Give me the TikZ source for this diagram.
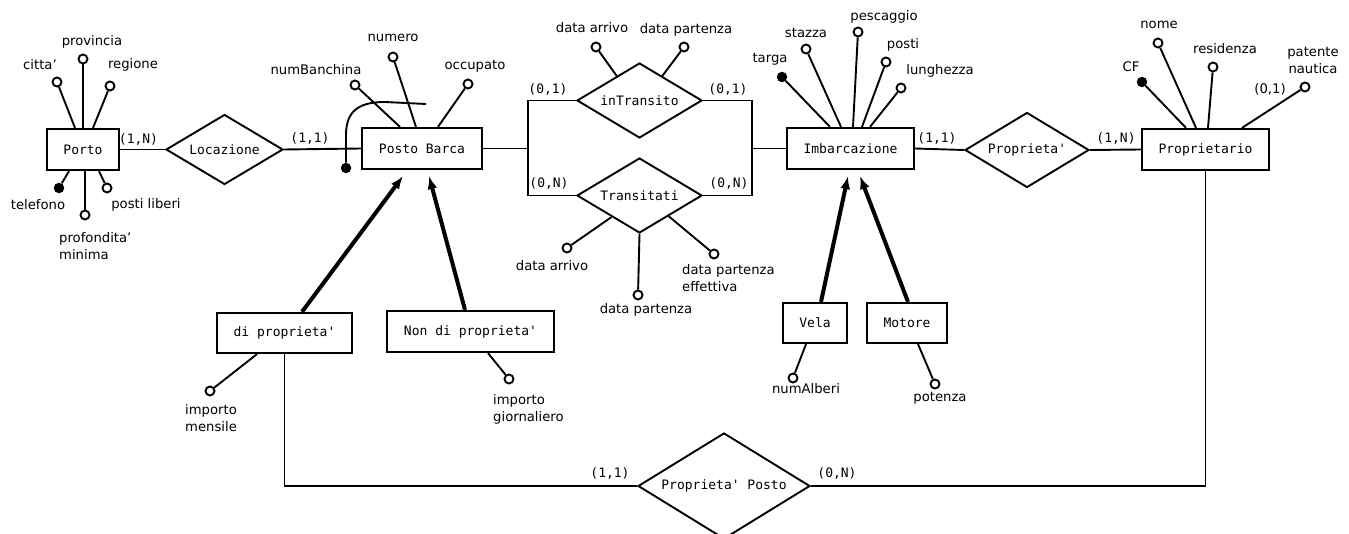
\documentclass[tikz,border=0pt]{standalone}
\usepackage{fontspec}
\setmainfont{DejaVu Sans}
\setmonofont{DejaVu Sans Mono}
\usetikzlibrary{shapes.geometric,arrows.meta,calc}
\begin{document}
\begin{tikzpicture}[x=1pt,y=-1pt,
  ent/.style={draw,line width=2.2pt,minimum height=41pt,inner sep=0pt,font=\fontsize{13}{15}\ttfamily},
  rel/.style={draw,diamond,line width=1.9pt,inner sep=0pt,aspect=1.7,font=\fontsize{13}{15}\ttfamily},
  attr/.style={circle,draw,fill=white,line width=1.9pt,minimum size=9pt,inner sep=0pt},
  keyattr/.style={circle,fill=black,minimum size=10.5pt,inner sep=0pt},
  lbl/.style={font=\fontsize{13.2}{17}\selectfont,inner sep=0pt},
  card/.style={font=\fontsize{13}{15}\ttfamily,inner sep=0pt},
  link/.style={line width=1.9pt},
  isa/.style={line width=4pt,-{Latex[length=13pt,width=10pt]}},
]
\useasboundingbox (0,0) rectangle (1349,534);

% entities
\node[ent,minimum width=72pt] (porto) at (83,149.5) {Porto};
\node[ent,minimum width=120pt] (pb) at (422,148.5) {Posto Barca};
\node[ent,minimum width=127pt] (imb) at (850.5,148.5) {Imbarcazione};
\node[ent,minimum width=127pt] (proprietario) at (1205.5,149.5) {Proprietario};
\node[ent,minimum width=135pt,minimum height=40pt] (dip) at (284.5,333) {di proprieta'};
\node[ent,minimum width=167pt] (ndp) at (470.5,331.5) {Non di proprieta'};
\node[ent,minimum width=64pt,minimum height=40pt] (vela) at (815,323) {Vela};
\node[ent,minimum width=80pt,minimum height=40pt] (motore) at (907,323) {Motore};

% relationships
\node[rel,minimum width=117pt,minimum height=70pt] (locazione) at (224.5,149.5) {Locazione};
\node[rel,minimum width=125pt,minimum height=75pt] (intransito) at (639.5,100.5) {inTransito};
\node[rel,minimum width=125pt,minimum height=75pt] (transitati) at (639.5,195.5) {Transitati};
\node[rel,minimum width=124pt,minimum height=75pt] (propr) at (1027,150) {Proprieta'};
\node[rel,minimum width=172pt,minimum height=106pt,aspect=1.6] (pp) at (724,486) {Proprieta' Posto};

% connectors
\coordinate (jl) at (528,148.5);
\coordinate (jr) at (752,148.5);
\draw[link] (porto.east) -- (locazione.west);
\draw[link] (locazione.east) -- (pb.west);
\draw[link] (pb.east) -- (jl);
\draw[link] (intransito.west) -| (jl) |- (transitati.west);
\draw[link] (intransito.east) -| (jr) |- (transitati.east);
\draw[link] (jr) -- (imb.west);
\draw[link] (imb.east) -- (propr.west);
\draw[link] (propr.east) -- (proprietario.west);
\draw[link] (dip.south) |- (pp.west);
\draw[link] (proprietario.south) |- (pp.east);

% generalisations
\draw[isa] ([xshift=17.5pt]dip.north) -- ([xshift=-19pt,yshift=-6pt]pb.south);
\draw[isa] ([xshift=-5.5pt]ndp.north) -- ([xshift=7pt,yshift=-6pt]pb.south);
\draw[isa] ([xshift=6pt]vela.north) -- ([xshift=-2.5pt,yshift=-6pt]imb.south);
\draw[isa] ([xshift=1pt]motore.north) -- ([xshift=9.5pt,yshift=-6pt]imb.south);

% cardinalities
\node[card] (c1) at (138.5,139) {(1,N)};
\node[card] (c2) at (310,138) {(1,1)};
\node[card] (c3) at (548,89) {(0,1)};
\node[card] (c4) at (728,89) {(0,1)};
\node[card] (c5) at (549,183) {(0,N)};
\node[card] (c6) at (729,183) {(0,N)};
\node[card] (c7) at (937,138) {(1,1)};
\node[card] (c8) at (1116,138) {(1,N)};
\node[card] (c9) at (610,473) {(1,1)};
\node[card] (c10) at (837,473) {(0,N)};
\node[lbl] (c11) at (1270,89) {(0,1)};

% Porto attributes
\node[attr] (a1) at (57,82) {};
\node[attr] (a2) at (83,59) {};
\node[attr] (a3) at (110,86) {};
\node[keyattr] (a4) at (59,188) {};
\node[attr] (a5) at (85,215) {};
\node[attr] (a6) at (107,188) {};
\draw[link] ([xshift=-8pt]porto.north) -- (a1);
\draw[link] (porto.north) -- (a2);
\draw[link] ([xshift=10pt]porto.north) -- (a3);
\draw[link] ([xshift=-14pt]porto.south) -- (a4);
\draw[link] ([xshift=2pt]porto.south) -- (a5);
\draw[link] ([xshift=16pt]porto.south) -- (a6);
\node[lbl] (l1) at (40,65) {citta'};
\node[lbl] (l2) at (92,42) {provincia};
\node[lbl] (l3) at (133,65) {regione};
\node[lbl] (l4) at (38,205) {telefono};
\node[lbl,anchor=west,align=left] (l5) at (59,246) {profondita'\\minima};
\node[lbl] (l6) at (146,205) {posti liberi};

% Posto Barca attributes
\node[attr] (b1) at (355,85) {};
\node[attr] (b2) at (393,57) {};
\node[attr] (b3) at (468,84) {};
\draw[link] ([xshift=-22pt]pb.north) -- (b1);
\draw[link] ([xshift=-6pt]pb.north) -- (b2);
\draw[link] ([xshift=16pt]pb.north) -- (b3);
\node[lbl] (m1) at (316,70) {numBanchina};
\node[lbl] (m2) at (393,38) {numero};
\node[lbl] (m3) at (475,66) {occupato};
\node[keyattr] (bk) at (346,168) {};
\coordinate (bkend) at (426,104);
\draw[link] (bk) -- (346,135) .. controls (346,110) and (360,102) .. (385,102) -- (bkend);

% inTransito attributes
\node[attr] (t1) at (596,47) {};
\node[attr] (t2) at (684,47) {};
\draw[link] ($(intransito.north)!0.36!(intransito.west)$) -- (t1);
\draw[link] ($(intransito.north)!0.36!(intransito.east)$) -- (t2);
\node[lbl] (n1) at (592,28) {data arrivo};
\node[lbl] (n2) at (686,30) {data partenza};

% Transitati attributes
\node[attr] (s1) at (567,248) {};
\node[attr] (s2) at (638,295) {};
\node[attr] (s3) at (714,254) {};
\draw[link] ($(transitati.south)!0.44!(transitati.west)$) -- (s1);
\draw[link] (transitati.south) -- (s2);
\draw[link] ($(transitati.south)!0.46!(transitati.east)$) -- (s3);
\node[lbl] (o1) at (552,266) {data arrivo};
\node[lbl] (o2) at (646,310) {data partenza};
\node[lbl,anchor=west,align=left] (o3) at (682,278.5) {data partenza\\effettiva};

% Imbarcazione attributes
\node[keyattr] (i1) at (782,77) {};
\node[attr] (i2) at (806,49) {};
\node[attr] (i3) at (858,32) {};
\node[attr] (i4) at (886,62) {};
\node[attr] (i5) at (901,88) {};
\draw[link] ([xshift=-20.5pt]imb.north) -- (i1);
\draw[link] ([xshift=-9.5pt]imb.north) -- (i2);
\draw[link] ([xshift=2.5pt]imb.north) -- (i3);
\draw[link] ([xshift=11.5pt]imb.north) -- (i4);
\draw[link] ([xshift=19.5pt]imb.north) -- (i5);
\node[lbl] (p1) at (770,59) {targa};
\node[lbl] (p2) at (806,33) {stazza};
\node[lbl] (p3) at (884,17) {pescaggio};
\node[lbl] (p4) at (903,45) {posti};
\node[lbl] (p5) at (940,71) {lunghezza};

% Proprietario attributes
\node[keyattr] (r1) at (1142,82) {};
\node[attr] (r2) at (1158,43) {};
\node[attr] (r3) at (1213,67) {};
\node[attr] (r4) at (1305,87) {};
\draw[link] ([xshift=-19.5pt]proprietario.north) -- (r1);
\draw[link] ([xshift=-9.5pt]proprietario.north) -- (r2);
\draw[link] ([xshift=2.5pt]proprietario.north) -- (r3);
\draw[link] ([xshift=36.5pt]proprietario.north) -- (r4);
\node[lbl] (q1) at (1131,67) {CF};
\node[lbl] (q2) at (1159,25) {nome};
\node[lbl] (q3) at (1225,49) {residenza};
\node[lbl,align=center] (q4) at (1313,60.5) {patente\\nautica};

% subclass attributes
\node[attr] (d1) at (210,391) {};
\node[attr] (d2) at (509,379) {};
\node[attr] (d3) at (793,378) {};
\node[attr] (d4) at (935,384) {};
\draw[link] ([xshift=-27.5pt]dip.south) -- (d1);
\draw[link] ([xshift=17.5pt]ndp.south) -- (d2);
\draw[link] ([xshift=-9pt]vela.south) -- (d3);
\draw[link] ([xshift=11pt]motore.south) -- (d4);
\node[lbl,anchor=west,align=left] (e1) at (185,418) {importo\\mensile};
\node[lbl,anchor=west,align=left] (e2) at (493,409) {importo\\giornaliero};
\node[lbl] (e3) at (806,389) {numAlberi};
\node[lbl] (e4) at (940,398) {potenza};
\end{tikzpicture}
\end{document}
